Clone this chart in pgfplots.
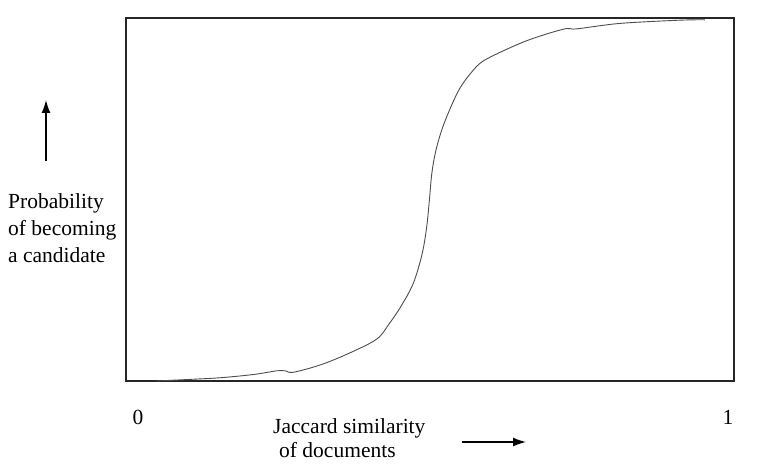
\documentclass[border=0pt]{standalone}
\usepackage{pgfplots}
\pgfplotsset{compat=1.18}
\usepackage{fontspec}
\setmainfont{Liberation Serif}
\usetikzlibrary{arrows.meta}
\begin{document}
\begin{tikzpicture}[x=1pt,y=1pt]
\useasboundingbox (0,0) rectangle (778,466);
\begin{axis}[
  at={(126pt,85pt)}, anchor=south west,
  width=608pt, height=363pt, scale only axis,
  xmin=0, xmax=1, ymin=0, ymax=1,
  xtick=\empty, ytick=\empty,
  axis line style={line width=1.3pt, black!85},
  clip=false,
]
\addplot[line width=0.9pt, black!70, smooth, tension=0.55] coordinates {
(0.050,0.000) (0.100,0.004) (0.155,0.009) (0.210,0.018) (0.248,0.028)
(0.262,0.028) (0.275,0.024) (0.319,0.044) (0.365,0.075) (0.412,0.115)
(0.433,0.158) (0.452,0.205) (0.4725,0.269) (0.487,0.350) (0.4946,0.425)
(0.4990,0.499) (0.5030,0.572) (0.509,0.630) (0.519,0.690)
(0.533,0.750) (0.549,0.806) (0.568,0.850) (0.590,0.884) (0.648,0.930)
(0.690,0.955) (0.725,0.971) (0.741,0.970) (0.812,0.985) (0.911,0.994)
(0.952,0.995)
};
\end{axis}
\begin{scope}[every node/.style={inner sep=0pt, font=\fontsize{21.5pt}{22pt}\selectfont}]
\node[anchor=base west] at (8,257) {Probability};
\node[anchor=base west] at (8,230) {of becoming};
\node[anchor=base west] at (8,203) {a candidate};
\node[anchor=base west] at (273,33) {Jaccard similarity};
\node[anchor=base west] at (279,9) {of documents};
\node[anchor=base] at (138,42) {0};
\node[anchor=base] at (728,42) {1};
\end{scope}
\draw[line width=1.4pt, -{Latex[length=13pt,width=9pt]}] (46,305) -- (46,366);
\draw[line width=1.4pt, -{Latex[length=13pt,width=9pt]}] (462,24) -- (526,24);
\end{tikzpicture}
\end{document}
